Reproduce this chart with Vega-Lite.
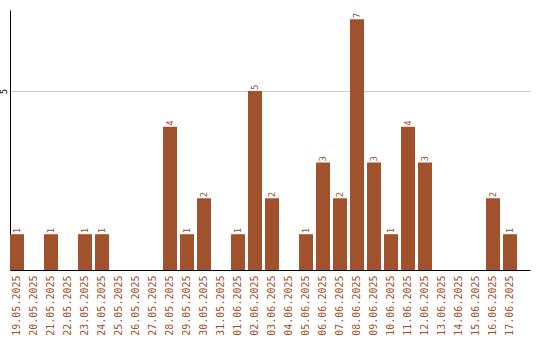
{
  "$schema": "https://vega.github.io/schema/vega-lite/v6.json",
  "width": 520,
  "height": 260,
  "autosize": "none",
  "padding": {"left": 10, "top": 10, "right": 10, "bottom": 70},
  "background": "white",
  "config": {"view": {"stroke": null}},
  "data": {"values": [
    {"date": "19.05.2025", "count": 1},
    {"date": "20.05.2025", "count": 0},
    {"date": "21.05.2025", "count": 1},
    {"date": "22.05.2025", "count": 0},
    {"date": "23.05.2025", "count": 1},
    {"date": "24.05.2025", "count": 1},
    {"date": "25.05.2025", "count": 0},
    {"date": "26.05.2025", "count": 0},
    {"date": "27.05.2025", "count": 0},
    {"date": "28.05.2025", "count": 4},
    {"date": "29.05.2025", "count": 1},
    {"date": "30.05.2025", "count": 2},
    {"date": "31.05.2025", "count": 0},
    {"date": "01.06.2025", "count": 1},
    {"date": "02.06.2025", "count": 5},
    {"date": "03.06.2025", "count": 2},
    {"date": "04.06.2025", "count": 0},
    {"date": "05.06.2025", "count": 1},
    {"date": "06.06.2025", "count": 3},
    {"date": "07.06.2025", "count": 2},
    {"date": "08.06.2025", "count": 7},
    {"date": "09.06.2025", "count": 3},
    {"date": "10.06.2025", "count": 1},
    {"date": "11.06.2025", "count": 4},
    {"date": "12.06.2025", "count": 3},
    {"date": "13.06.2025", "count": 0},
    {"date": "14.06.2025", "count": 0},
    {"date": "15.06.2025", "count": 0},
    {"date": "16.06.2025", "count": 2},
    {"date": "17.06.2025", "count": 1}
  ]},
  "encoding": {
    "x": {
      "field": "date", "type": "ordinal", "sort": null, "title": null,
      "scale": {"paddingInner": 0.1765, "paddingOuter": 0.382, "align": 0},
      "axis": {
        "labelAngle": -90, "labelColor": "#A0522D", "labelFont": "DejaVu Sans Mono",
        "labelFontSize": 10, "labelPadding": 5, "ticks": false,
        "domainColor": "#000000", "domainWidth": 1, "grid": false
      }
    },
    "y": {
      "field": "count", "type": "quantitative", "title": null,
      "scale": {"domain": [0, 7.26], "nice": false},
      "axis": {
        "values": [5], "labelAngle": -90, "labelFont": "DejaVu Sans Mono", "labelFontSize": 9,
        "labelColor": "#000000", "ticks": false, "labelPadding": 2, "labelAlign": "center", "labelBaseline": "bottom",
        "domainColor": "#000000", "grid": true, "gridColor": "#cccccc"
      }
    }
  },
  "layer": [
    {"mark": {"type": "bar", "color": "#A0522D"}},
    {
      "transform": [{"filter": "datum.count > 0"}],
      "mark": {"type": "text", "angle": 270, "align": "left", "baseline": "middle", "dx": 1,
               "font": "DejaVu Sans Mono", "fontSize": 9, "color": "#A0522D"},
      "encoding": {"text": {"field": "count", "type": "quantitative"}}
    }
  ]
}
